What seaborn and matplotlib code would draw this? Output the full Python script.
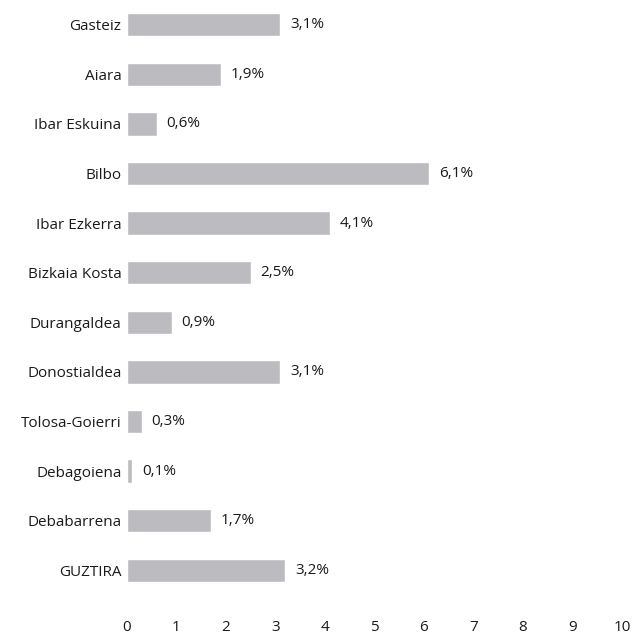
import matplotlib.pyplot as plt
import seaborn as sns
import pandas as pd

regions = ['Gasteiz', 'Aiara', 'Ibar Eskuina', 'Bilbo', 'Ibar Ezkerra', 'Bizkaia Kosta',
           'Durangaldea', 'Donostialdea', 'Tolosa-Goierri', 'Debagoiena', 'Debabarrena', 'GUZTIRA']
values = [3.1, 1.9, 0.6, 6.1, 4.1, 2.5, 0.9, 3.1, 0.3, 0.1, 1.7, 3.2]
xticks = [0, 1, 2, 3, 4, 5, 6, 7, 8, 9, 10]

df = pd.DataFrame({'Region': regions, 'Value': values})

sns.set_style('white')
plt.rcParams['font.family'] = ['Open Sans', 'DejaVu Sans']

fig = plt.figure(figsize=(6.33, 6.37), dpi=100)
ax = fig.add_axes([0.2006, 0.066, 0.782, 0.934])

sns.barplot(data=df, x='Value', y='Region', orient='h', color='#bcbcc0',
            width=0.47, saturation=1, ax=ax)

for i, v in enumerate(values):
    ax.text(v + 0.2, i, f'{v:.1f}%'.replace('.', ','), va='center', ha='left',
            fontsize=11, color='#1a1a1a')

ax.set_xlim(0, 10)
ax.set_ylim(11.5, -0.5)
ax.set_xticks(xticks)
ax.set_xticklabels([str(t) for t in xticks], fontsize=11, color='#1a1a1a')
ax.tick_params(axis='x', length=0, pad=18)
ax.tick_params(axis='y', length=0, pad=4, labelsize=11, labelcolor='#1a1a1a')
ax.set_xlabel('')
ax.set_ylabel('')
for s in ax.spines.values():
    s.set_visible(False)

fig.savefig('out.png', dpi=100)
